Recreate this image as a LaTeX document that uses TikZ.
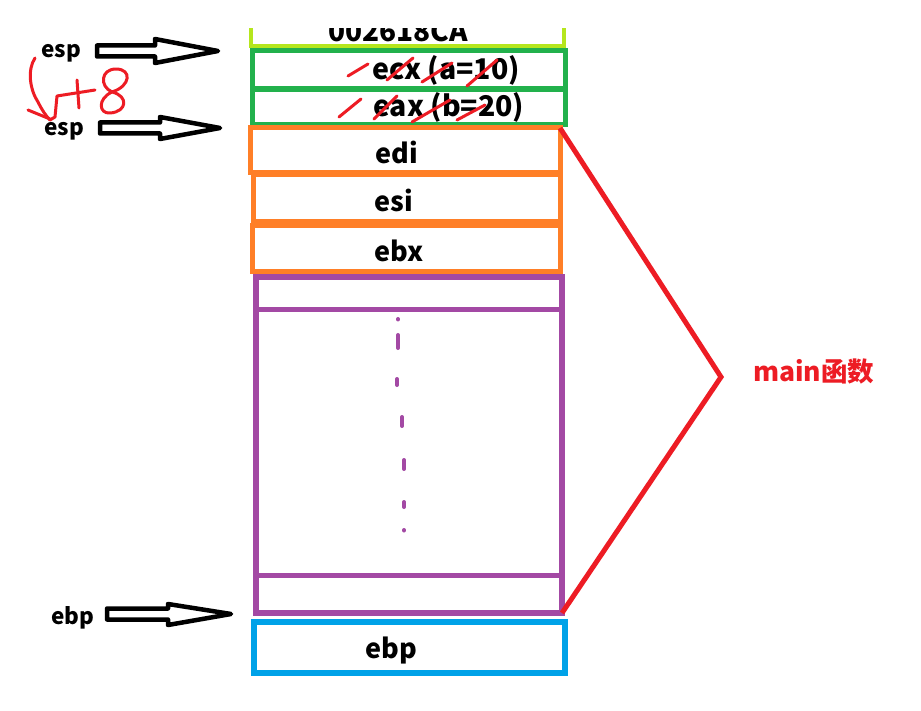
\documentclass[tikz,border=0pt]{standalone}
\usepackage{fontspec}
\setmainfont{Noto Sans CJK SC}
\usetikzlibrary{calc}
\definecolor{plime}{HTML}{B5E61D}
\definecolor{pgreen}{HTML}{22B14C}
\definecolor{porange}{HTML}{FF7F27}
\definecolor{ppurple}{HTML}{A349A4}
\definecolor{pblue}{HTML}{00A2E8}
\definecolor{pred}{HTML}{ED1C24}
\tikzset{
  regbox/.style={draw, line width=5pt, inner sep=0pt, outer sep=0pt},
  boxtext/.style={inner sep=0pt, font=\fontsize{27}{32}\selectfont\bfseries, anchor=base},
  ptrtext/.style={inner sep=0pt, font=\fontsize{22.5}{26}\selectfont\bfseries, anchor=base},
  hollowarrow/.style={draw=black, line width=4.5pt, line join=round, fill=white},
  scribble/.style={draw=pred, line width=3pt, line cap=round, line join=round},
}
\begin{document}
\begin{tikzpicture}[x=1pt,y=-1pt]
\useasboundingbox[fill=white] (0,0) rectangle (921,711);

% top partially visible cell
\begin{scope}
  \clip (200,29) rectangle (600,60);
  \draw[plime, line width=4pt] (251,-10) -- (251,46) -- (564,46) -- (564,-10);
  \node (addr) [inner sep=0pt, font=\fontsize{28}{32}\selectfont\bfseries, anchor=base west] at (328,42) {002618CA};
\end{scope}

% green cells
\node (ecxbox) [regbox, draw=pgreen, minimum width=313pt, minimum height=38pt] at (408.5,70) {};
\node (eaxbox) [regbox, draw=pgreen, minimum width=313pt, minimum height=35pt] at (408.5,107) {};
\node (ecx) [boxtext, font=\fontsize{28.5}{32}\selectfont\bfseries, anchor=base west] at (372,80) {ecx (a=10)};
\node (eax) [boxtext, font=\fontsize{28.5}{32}\selectfont\bfseries, anchor=base west] at (373,117) {eax (b=20)};

% orange cells
\node (edibox) [regbox, draw=porange, minimum width=310pt, minimum height=45pt] at (405,150.5) {};
\node (esibox) [regbox, draw=porange, minimum width=307pt, minimum height=47pt] at (406.5,198.5) {};
\node (ebxbox) [regbox, draw=porange, minimum width=308pt, minimum height=46pt] at (406,249) {};
\node (edi) [boxtext] at (397,164) {edi};
\node (esi) [boxtext] at (394,212) {esi};
\node (ebx) [boxtext] at (399,262) {ebx};

% purple frame
\node (frame) [regbox, draw=ppurple, line width=6pt, minimum width=306pt, minimum height=336pt] at (409,445) {};
\draw[ppurple, line width=5pt] (frame.west |- 0,310) -- (frame.east |- 0,310);
\draw[ppurple, line width=5pt] (frame.west |- 0,575) -- (frame.east |- 0,575);
\draw[ppurple, line width=4pt, line cap=round]
  (398,319) -- (398,319.5)
  (398,335) -- (398,348)
  (397,379) -- (397,385)
  (402,417) -- (402,426)
  (404,460) -- (404,469)
  (404,502) -- (404,507)
  (404,530) -- (404,530.5);

% blue cell
\node (ebpbox) [regbox, draw=pblue, line width=6pt, minimum width=311pt, minimum height=51pt] at (409.5,647.5) {};
\node (ebp) [boxtext] at (391,658) {ebp};

% red bracket
\coordinate (apex) at (721,377);
\draw[pred, line width=5pt, line join=miter] (edibox.north east) -- (apex) -- (frame.south east);
\node (mainlbl) [inner sep=0pt, text=pred, font=\fontsize{26.5}{30}\selectfont\bfseries, anchor=base west] at (753,381) {main函数};

% pointer labels and hollow arrows
\node (esp1) [ptrtext] at (61,58) {esp};
\node (esp2) [ptrtext] at (64,136) {esp};
\node (ebpp) [ptrtext] at (73,624) {ebp};
\coordinate (tip1) at (218,51);
\coordinate (tip2) at (220,128);
\coordinate (tip3) at (231,614);
\draw[hollowarrow] (97,45.5) -- (155,45.5) -- (155,39) -- (tip1) -- (155,63) -- (155,56.5) -- (97,56.5) -- cycle;
\draw[hollowarrow] (100,122.5) -- (160,122.5) -- (160,117) -- (tip2) -- (160,139) -- (160,133.5) -- (100,133.5) -- cycle;
\draw[hollowarrow] (107,608.5) -- (168,608.5) -- (168,604) -- (tip3) -- (168,625) -- (168,619.5) -- (107,619.5) -- cycle;

% red handwriting: +8 with arrow
\draw[scribble] (35,58) .. controls (27,70) and (30,90) .. (38,102) .. controls (42,110) and (46,116) .. (50,120);
\draw[scribble] (28,110) -- (50,119);
\draw[scribble] (50,120) -- (55,117) -- (57,96) -- (95,90);
\draw[scribble] (77,80) -- (79,108);
\draw[scribble] (112,92) .. controls (99,86) and (101,69) .. (116,69) .. controls (132,69) and (131,86) .. (112,92) .. controls (97,99) and (99,114) .. (110,113) .. controls (127,112) and (129,96) .. (112,92);

% red strike marks
\draw[scribble] (348,76) -- (368,64);
\draw[scribble] (387,80) -- (413,58);
\draw[scribble] (422,82) -- (452,63);
\draw[scribble] (467,86) -- (497,60);
\draw[scribble] (339,117) -- (361,99);
\draw[scribble] (374,119) -- (397,96);
\draw[scribble] (412,122) -- (450,100);
\draw[scribble] (457,120) -- (485,105);
\end{tikzpicture}
\end{document}
